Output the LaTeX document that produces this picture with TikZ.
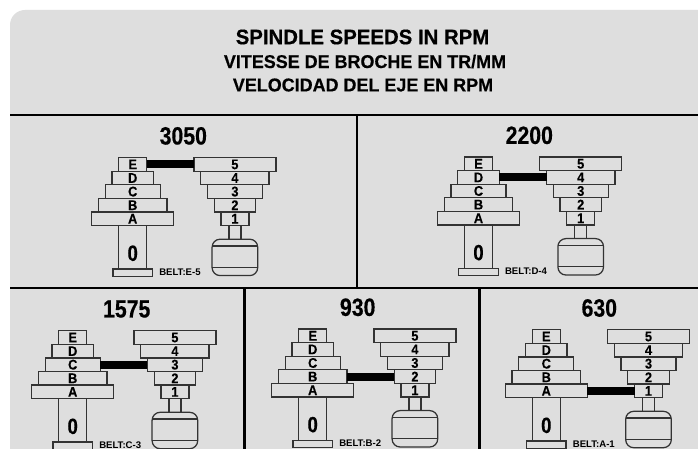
\documentclass[tikz,border=0pt]{standalone}
\usepackage{fontspec}
\setmainfont{Liberation Sans}
\newfontfamily\headfont[FakeStretch=0.97,BoldFeatures={FakeBold=0.5}]{Liberation Sans}
\newfontfamily\speedfont[FakeStretch=0.85,BoldFeatures={FakeBold=0.4}]{Liberation Sans}
\newfontfamily\stepfont[FakeStretch=0.92,BoldFeatures={FakeBold=0.2}]{Liberation Sans}
\usetikzlibrary{positioning}
% #1 prefix, #2 x, #3 y, #4 speed, #5 speed x, #6 left step, #7 right step
\newcommand{\pulleyset}[7]{
  \node[speedlabel] (#1speed) at (#5,{#3-21.7}) {#4};
  \node[stepbox, minimum width=28pt, anchor=north] (#1E) at (#2,#3) {E};
  \node[stepbox, minimum width=41.3pt, below=0pt of #1E] (#1D) {D};
  \node[stepbox, minimum width=55pt, below=0pt of #1D] (#1C) {C};
  \node[stepbox, minimum width=68.4pt, below=0pt of #1C] (#1B) {B};
  \node[stepbox, minimum width=82pt, below=0pt of #1B] (#1A) {A};
  \node[stepbox, minimum width=28pt, minimum height=43.3pt, below=0pt of #1A] (#1shaft) {};
  \node[zerolabel] (#1zero) at ([yshift=-6pt]#1shaft.center) {0};
  \node[stepbox, minimum width=39.3pt, minimum height=7.3pt, below=0pt of #1shaft] (#1base) {};
  \node[beltlabel, right=6.7pt of #1base, yshift=0.7pt] (#1label) {BELT:#6-#7};
  \node[stepbox, minimum width=82pt, anchor=north] (#1five) at ({#2+102.2},#3) {5};
  \node[stepbox, minimum width=68.4pt, below=0pt of #1five] (#1four) {4};
  \node[stepbox, minimum width=55pt, below=0pt of #1four] (#1three) {3};
  \node[stepbox, minimum width=41.3pt, below=0pt of #1three] (#1two) {2};
  \node[stepbox, minimum width=28pt, below=0pt of #1two] (#1one) {1};
  \node[stepbox, minimum width=12pt, below=0pt of #1one] (#1neck) {};
  \node[stepbox, rounded corners=8pt, minimum width=45.6pt, minimum height=36.4pt, below=0pt of #1neck] (#1motor) {};
  \draw[stepline] ([yshift=-6.7pt]#1motor.north west) -- ([yshift=-6.7pt]#1motor.north east);
  \draw[stepline] ([yshift=8.4pt]#1motor.south west) -- ([yshift=8.4pt]#1motor.south east);
}
\begin{document}
\begin{tikzpicture}[
    x=1pt, y=-1pt,
    stepline/.style={draw=black!80, line width=1.25pt},
    stepbox/.style={stepline, minimum height=13.6pt, inner sep=0pt, outer sep=0pt,
      font=\fontsize{14}{14}\stepfont\bfseries},
    speedlabel/.style={font=\fontsize{25}{25}\speedfont\bfseries, inner sep=0pt},
    zerolabel/.style={font=\fontsize{22}{22}\speedfont\bfseries, inner sep=0pt},
    beltlabel/.style={font=\fontsize{9.6}{10}\selectfont\bfseries, inner sep=0pt},
    titleline/.style={font=\fontsize{#1}{#1}\headfont\bfseries, inner sep=0pt},
    beltbar/.style={draw=black, line width=8pt},
    rulebar/.style={draw=black, line width=2.5pt},
  ]
    \useasboundingbox (0,0) rectangle (698,449);
    \fill[white] (0,0) rectangle (698,449);
    \fill[black!13, rounded corners=15pt] (10,520) -- (10,10) -- (698,10) -- (760,10) -- (760,520) -- cycle;
    \node[titleline=21] (title) at (362.5,37) {SPINDLE SPEEDS IN RPM};
    \node[titleline=18.5] (titlefr) at (365,61.5) {VITESSE DE BROCHE EN TR/MM};
    \node[titleline=18.5] (titlees) at (363,85) {VELOCIDAD DEL EJE EN RPM};
    \draw[rulebar] (10,115) -- (698,115);
    \draw[rulebar] (10,288) -- (698,288);
    \draw[rulebar] (357,115) -- (357,288);
    \draw[rulebar] (244.5,288) -- (244.5,449);
    \draw[rulebar] (479.5,288) -- (479.5,449);
    \pulleyset{p}{132.7}{157.6}{3050}{183.3}{E}{5}
    \draw[beltbar] (pE.east) -- (pfive.west);
    \pulleyset{q}{478.5}{157}{2200}{529.3}{D}{4}
    \draw[beltbar] (qD.east) -- (qfour.west);
    \pulleyset{r}{72.7}{330.7}{1575}{126.7}{C}{3}
    \draw[beltbar] (rC.east) -- (rthree.west);
    \pulleyset{s}{312.7}{329}{930}{357.7}{B}{2}
    \draw[beltbar] (sB.east) -- (stwo.west);
    \pulleyset{t}{546.3}{329.7}{630}{599.3}{A}{1}
    \draw[beltbar] (tA.east) -- (tone.west);
  \end{tikzpicture}
\end{document}
